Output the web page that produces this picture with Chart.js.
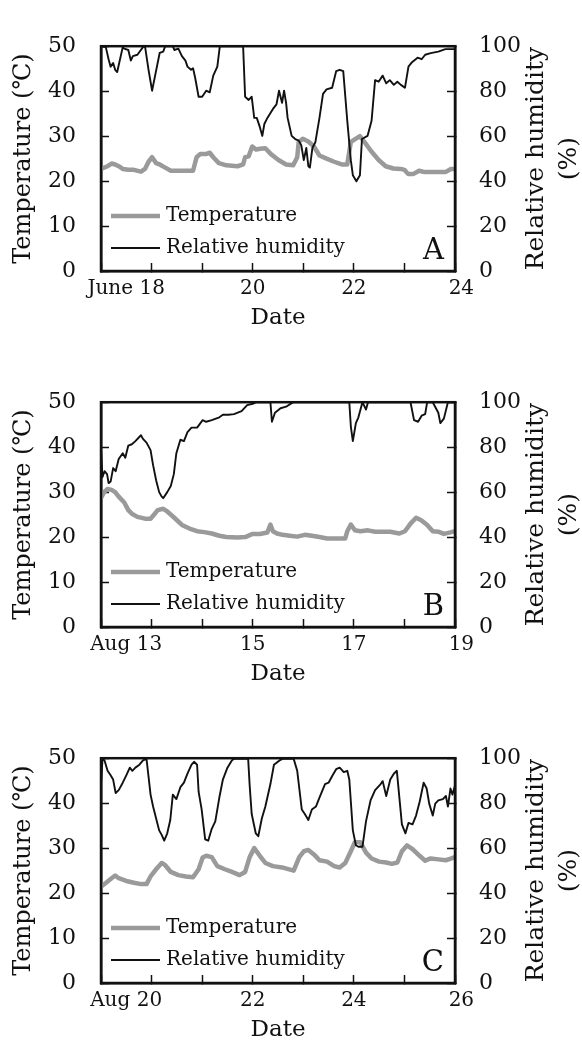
<!DOCTYPE html>
<html>
<head>
<meta charset="utf-8">
<script src="https://cdn.jsdelivr.net/npm/chart.js@4.4.0/dist/chart.umd.min.js"></script>
<style>
body { margin: 0; background: #fff; overflow: hidden; width: 582px; height: 1043px; position: relative; }
canvas { position: absolute; left: 0; }
</style>
</head>
<body>
<canvas id="chartA" width="582" height="340" style="top:0px"></canvas>
<canvas id="chartB" width="582" height="340" style="top:356px"></canvas>
<canvas id="chartC" width="582" height="340" style="top:712px"></canvas>
<script>
// Panel A, June 17-24 (x = day of month)
var dayRhA = [17.00, 17.095, 17.15, 17.19, 17.24, 17.28, 17.32, 17.43, 17.46, 17.54, 17.59, 17.63, 17.72, 17.83, 17.87,
  17.94, 18.01, 18.07, 18.16, 18.23, 18.27, 18.42, 18.45, 18.53, 18.60, 18.67, 18.71, 18.78, 18.82, 18.86, 18.93,
  19.00, 19.08, 19.15, 19.22, 19.30, 19.35, 19.81, 19.85, 19.92, 19.98, 20.03, 20.08, 20.14, 20.19, 20.23, 20.29,
  20.40, 20.47, 20.52, 20.58, 20.62, 20.66, 20.69, 20.77, 20.84, 20.91, 20.96, 21.01, 21.06, 21.10, 21.13, 21.18,
  21.24, 21.32, 21.39, 21.46, 21.57, 21.65, 21.72, 21.79, 21.87, 21.94, 21.98, 22.05, 22.12, 22.16, 22.27, 22.35,
  22.42, 22.49, 22.57, 22.64, 22.71, 22.79, 22.86, 22.93, 23.01, 23.08, 23.15, 23.26, 23.34, 23.41, 23.52, 23.67,
  23.81, 24.00];
var rhA = [100, 99.6, 94.2, 90.9, 92.5, 89.5, 88.5, 99.6, 98.9, 98.3, 93.6, 95.6, 96.2, 99.6, 100,
  89.5, 80.2, 86.9, 97.0, 97.6, 100, 100, 98.3, 98.9, 95.6, 93.6, 90.9, 89.5, 90.2, 86.2, 77.5,
  77.5, 80.2, 79.5, 86.9, 90.9, 100, 100, 77.5, 76.1, 77.5, 68.1, 68.1, 64.1, 60.1, 65.4, 68.1,
  72.1, 74.1, 80.2, 74.8, 80.2, 74.8, 68.1, 60.1, 58.7, 58.0, 56.0, 49.3, 54.7, 46.6, 46.0, 54.7,
  57.4, 68.1, 78.8, 80.8, 81.5, 88.9, 89.5, 88.9, 66.8, 49.3, 42.6, 39.9, 42.6, 58.7, 60.1, 66.8,
  84.9, 84.2, 86.9, 83.5, 84.9, 82.8, 84.2, 82.8, 81.5, 90.9, 92.9, 94.9, 94.2, 96.2, 96.9, 97.6,
  98.7, 98.7];
var dayTempA = [17.00, 17.13, 17.21, 17.28, 17.35, 17.43, 17.54, 17.65, 17.79, 17.87, 17.94, 18.01, 18.09, 18.16,
  18.27, 18.38, 18.53, 18.67, 18.82, 18.89, 18.96, 19.07, 19.15, 19.22, 19.33, 19.48, 19.70, 19.81, 19.85, 19.92,
  19.99, 20.07, 20.14, 20.25, 20.36, 20.51, 20.66, 20.80, 20.88, 20.91, 20.99, 21.10, 21.21, 21.32, 21.46, 21.61,
  21.76, 21.87, 21.94, 22.05, 22.12, 22.23, 22.34, 22.49, 22.63, 22.78, 22.93, 23.00, 23.07, 23.18, 23.29, 23.40,
  23.51, 23.66, 23.81, 23.92, 24.00];
var tempA = [22.7, 23.3, 23.9, 23.7, 23.3, 22.7, 22.5, 22.5, 22.1, 22.7, 24.3, 25.3, 24.0, 23.7,
  23.0, 22.3, 22.3, 22.3, 22.3, 25.3, 26.0, 26.0, 26.3, 25.3, 24.0, 23.5, 23.3, 23.7, 25.3, 25.5,
  27.7, 27.0, 27.2, 27.3, 26.0, 24.7, 23.7, 23.5, 25.3, 28.7, 29.4, 28.8, 27.7, 25.7, 25.0, 24.3,
  23.7, 23.7, 28.7, 29.5, 30.0, 28.4, 26.7, 24.7, 23.3, 22.8, 22.7, 22.5, 21.6, 21.6, 22.3, 22.0,
  22.0, 22.0, 22.0, 22.7, 22.7];
var tickValsA = [18, 20, 22, 24];
var tickTextA = ['June 18', '20', '22', '24'];

// Panel B, Aug 12-19
var dayRhB = [12.00, 12.03, 12.07, 12.12, 12.15, 12.19, 12.24, 12.29, 12.35, 12.43, 12.48, 12.54, 12.61, 12.68,
  12.79, 12.83, 12.90, 12.98, 13.03, 13.09, 13.15, 13.20, 13.23, 13.31, 13.38, 13.44, 13.49, 13.57, 13.64, 13.71,
  13.79, 13.90, 14.01, 14.08, 14.19, 14.34, 14.41, 14.52, 14.63, 14.78, 14.89, 15.00, 15.07, 15.35, 15.38, 15.44,
  15.55, 15.66, 15.77, 15.81, 16.91, 16.94, 16.98, 17.04, 17.09, 17.17, 17.24, 17.28, 18.12, 18.19, 18.27, 18.34,
  18.41, 18.45, 18.56, 18.67, 18.71, 18.78, 18.86, 19.00];
var rhB = [78.7, 66.7, 69.3, 68.0, 64.0, 64.7, 70.7, 69.3, 74.7, 77.3, 75.3, 80.7, 81.3, 82.7,
  85.3, 83.7, 82.0, 78.7, 72.0, 65.3, 60.0, 58.0, 57.3, 60.0, 62.7, 68.0, 77.3, 83.3, 82.7, 86.7,
  88.7, 88.7, 92.0, 91.3, 92.0, 93.3, 94.4, 94.4, 94.7, 96.0, 98.7, 99.3, 100, 100, 91.3, 95.3,
  97.3, 98.0, 99.6, 100, 100, 89.3, 82.7, 90.7, 93.3, 100, 96.7, 100, 100, 92.0, 91.3, 94.0,
  94.7, 100, 100, 95.3, 90.7, 92.7, 100, 100];
var dayTempB = [12.00, 12.06, 12.13, 12.21, 12.28, 12.35, 12.46, 12.54, 12.61, 12.72, 12.87, 12.98, 13.05, 13.12,
  13.23, 13.31, 13.45, 13.60, 13.75, 13.90, 14.04, 14.19, 14.34, 14.48, 14.70, 14.85, 15.00, 15.14, 15.29, 15.35,
  15.40, 15.48, 15.59, 15.73, 15.88, 16.03, 16.17, 16.32, 16.47, 16.61, 16.83, 16.87, 16.94, 17.02, 17.13, 17.28,
  17.42, 17.57, 17.72, 17.90, 18.01, 18.12, 18.23, 18.34, 18.45, 18.56, 18.67, 18.78, 18.89, 19.00];
var tempB = [28.7, 30.0, 30.7, 30.5, 30.0, 29.0, 27.7, 26.0, 25.2, 24.5, 24.1, 24.1, 25.0, 26.0,
  26.3, 25.7, 24.3, 22.7, 21.9, 21.3, 21.1, 20.8, 20.3, 20.0, 19.9, 20.0, 20.7, 20.7, 21.0, 22.8,
  21.3, 20.8, 20.5, 20.3, 20.1, 20.5, 20.3, 20.0, 19.7, 19.7, 19.7, 21.3, 22.8, 21.5, 21.3, 21.5,
  21.2, 21.2, 21.2, 20.8, 21.3, 23.0, 24.3, 23.7, 22.7, 21.3, 21.2, 20.7, 21.0, 21.3];
var tickValsB = [13, 15, 17, 19];
var tickTextB = ['Aug 13', '15', '17', '19'];

// Panel C, Aug 19-26
var dayRhC = [19.00, 19.03, 19.07, 19.13, 19.19, 19.24, 19.29, 19.35, 19.43, 19.50, 19.57, 19.62, 19.68, 19.76,
  19.83, 19.90, 19.94, 19.98, 20.03, 20.09, 20.15, 20.20, 20.25, 20.31, 20.37, 20.42, 20.49, 20.57, 20.64, 20.71,
  20.79, 20.84, 20.90, 20.93, 20.99, 21.06, 21.12, 21.19, 21.26, 21.34, 21.41, 21.50, 21.59, 21.63, 21.91, 21.94,
  21.98, 22.06, 22.11, 22.18, 22.25, 22.35, 22.42, 22.53, 22.59, 22.81, 22.88, 22.97, 23.03, 23.10, 23.17, 23.25,
  23.32, 23.43, 23.50, 23.58, 23.65, 23.72, 23.80, 23.87, 23.91, 23.98, 24.04, 24.09, 24.17, 24.24, 24.33, 24.42,
  24.53, 24.57, 24.64, 24.72, 24.79, 24.85, 24.90, 24.95, 25.02, 25.08, 25.16, 25.23, 25.30, 25.38, 25.44, 25.49,
  25.56, 25.61, 25.67, 25.76, 25.82, 25.86, 25.91, 25.95, 26.00];
var rhC = [88.5, 99.7, 99.0, 94.4, 92.4, 90.5, 84.5, 85.8, 89.1, 92.4, 95.8, 94.4, 95.8, 97.1,
  99.0, 99.7, 91.8, 83.8, 78.5, 73.2, 67.9, 65.9, 63.3, 66.6, 72.5, 83.8, 81.8, 87.1, 89.1, 93.1,
  97.1, 98.4, 97.1, 85.1, 77.2, 63.9, 63.3, 68.6, 71.9, 82.5, 90.5, 95.8, 99.1, 99.7, 99.7, 87.8,
  75.2, 66.6, 65.3, 73.2, 78.5, 88.5, 97.1, 99.0, 99.7, 99.7, 94.4, 77.2, 75.2, 72.5, 77.2, 78.5,
  82.5, 88.5, 89.1, 92.4, 95.1, 95.8, 93.8, 94.4, 90.5, 67.9, 61.3, 60.6, 60.6, 71.9, 81.2, 85.8,
  88.5, 89.8, 83.2, 90.5, 93.1, 94.4, 82.5, 70.6, 66.6, 71.2, 70.6, 74.5, 80.5, 89.1, 86.5, 79.8,
  74.5, 79.8, 81.2, 81.8, 83.2, 78.5, 86.5, 83.8, 87.8];
var dayTempC = [19.00, 19.10, 19.21, 19.28, 19.35, 19.50, 19.65, 19.79, 19.90, 19.98, 20.09, 20.20, 20.27, 20.38,
  20.53, 20.68, 20.82, 20.93, 21.01, 21.08, 21.19, 21.30, 21.45, 21.59, 21.74, 21.85, 21.94, 22.03, 22.14, 22.25,
  22.40, 22.58, 22.81, 22.92, 23.01, 23.10, 23.21, 23.32, 23.47, 23.61, 23.72, 23.83, 23.94, 24.02, 24.13, 24.24,
  24.35, 24.50, 24.64, 24.75, 24.86, 24.95, 25.05, 25.16, 25.30, 25.41, 25.52, 25.67, 25.82, 25.93, 26.00];
var tempC = [21.4, 22.3, 23.3, 23.9, 23.3, 22.7, 22.3, 22.0, 22.0, 23.7, 25.3, 26.7, 26.2, 24.7,
  24.0, 23.7, 23.5, 25.3, 27.9, 28.3, 28.0, 26.0, 25.3, 24.7, 24.0, 24.7, 28.0, 30.0, 28.3, 26.7,
  26.0, 25.7, 25.0, 28.0, 29.3, 29.6, 28.6, 27.3, 27.0, 26.0, 25.7, 26.7, 29.3, 31.3, 31.3, 29.0,
  27.7, 27.0, 26.8, 26.5, 26.8, 29.3, 30.6, 29.8, 28.3, 27.2, 27.7, 27.5, 27.3, 27.7, 28.0];
var tickValsC = [20, 22, 24, 26];
var tickTextC = ['Aug 20', '22', '24', '26'];

var FONT = '"DejaVu Serif", "Liberation Serif", serif';
var INK = '#111111';

// frame, in-plot legend, panel letter and the right axis title (reads bottom to top)
var panelDeco = {
  id: 'panelDeco',
  afterDatasetsDraw: function(chart, args, opts) {
    var ctx = chart.ctx;
    var a = chart.chartArea;
    ctx.save();
    ctx.strokeStyle = INK;
    ctx.lineWidth = 2.5;
    ctx.strokeRect(a.left, a.top, a.right - a.left, a.bottom - a.top);

    ctx.font = '20px ' + FONT;
    ctx.textAlign = 'left';
    ctx.textBaseline = 'middle';
    ctx.fillStyle = INK;
    chart.data.datasets.forEach(function(ds, i) {
      var y = a.bottom - 55 + i * 32;
      ctx.strokeStyle = ds.borderColor;
      ctx.lineWidth = ds.borderWidth;
      ctx.beginPath();
      ctx.moveTo(a.left + 10, y);
      ctx.lineTo(a.left + 59, y);
      ctx.stroke();
      ctx.fillText(ds.label, a.left + 65, y);
    });

    ctx.font = '29px ' + FONT;
    ctx.textAlign = 'right';
    ctx.textBaseline = 'alphabetic';
    ctx.fillText(opts.letter, a.right - 11, a.bottom - 12);

    var cy = (a.top + a.bottom) / 2;
    ctx.font = '25px ' + FONT;
    ctx.textAlign = 'center';
    ctx.textBaseline = 'middle';
    ctx.translate(a.right + 81, cy);
    ctx.rotate(-Math.PI / 2);
    ctx.fillText('Relative humidity', 0, 0);
    ctx.fillText('(%)', 0, 33);
    ctx.restore();
  }
};

function points(days, vals) {
  return days.map(function(d, i) { return { x: d, y: vals[i] }; });
}

function axisLines() {
  return {
    border: { color: INK, width: 2.5 },
    grid: { drawOnChartArea: false, tickLength: -8, color: INK, tickWidth: 1.5 }
  };
}

function makeChart(id, letter, dayT, temp, dayH, rh, xMin, tickVals, tickText) {
  var xAxis = axisLines();
  var yLeft = axisLines();
  var yRight = axisLines();

  new Chart(document.getElementById(id), {
    type: 'line',
    data: {
      datasets: [{
        label: 'Temperature',
        data: points(dayT, temp),
        yAxisID: 'yT',
        borderColor: '#9a9a9a',
        borderWidth: 4.5,
        pointRadius: 0,
        order: 2
      }, {
        label: 'Relative humidity',
        data: points(dayH, rh),
        yAxisID: 'yH',
        borderColor: INK,
        borderWidth: 1.9,
        pointRadius: 0,
        order: 1
      }]
    },
    options: {
      responsive: false,
      animation: false,
      devicePixelRatio: 1,
      layout: { padding: { top: 20, bottom: 0, left: 0, right: 0 } },
      elements: { line: { tension: 0, borderJoinStyle: 'round' } },
      plugins: {
        legend: { display: false },
        tooltip: { enabled: false },
        panelDeco: { letter: letter }
      },
      scales: {
        x: {
          type: 'linear',
          min: xMin,
          max: xMin + 7,
          afterFit: function(s) { s.height = 69; },
          border: xAxis.border,
          grid: xAxis.grid,
          ticks: {
            stepSize: 1,
            autoSkip: false,
            maxRotation: 0,
            padding: 14,
            color: INK,
            font: { family: FONT, size: 20 },
            callback: function(v) {
              var k = tickVals.indexOf(v);
              if (k < 0) return '';
              // month name sits left of the tick, the day number under it;
              // the last label sits a little right of the corner
              if (k === 0) return tickText[k] + '        ';
              if (k === tickVals.length - 1) return '  ' + tickText[k];
              return tickText[k];
            }
          },
          title: {
            display: true,
            text: 'Date',
            color: INK,
            font: { family: FONT, size: 23 },
            padding: { top: 0, bottom: 8 }
          }
        },
        yT: {
          position: 'left',
          min: 0,
          max: 50,
          afterFit: function(s) { s.width = 101; },
          border: yLeft.border,
          grid: yLeft.grid,
          ticks: { stepSize: 10, padding: 33, color: INK, font: { family: FONT, size: 22 } },
          title: {
            display: true,
            text: 'Temperature (℃)',
            color: INK,
            font: { family: FONT, size: 24 },
            padding: { top: 9, bottom: 0 }
          }
        },
        yH: {
          position: 'right',
          min: 0,
          max: 100,
          afterFit: function(s) { s.width = 127; },
          border: yRight.border,
          grid: yRight.grid,
          ticks: { stepSize: 20, padding: 32, color: INK, font: { family: FONT, size: 22 } }
        }
      }
    },
    plugins: [panelDeco]
  });
}

makeChart('chartA', 'A', dayTempA, tempA, dayRhA, rhA, 17, tickValsA, tickTextA);
makeChart('chartB', 'B', dayTempB, tempB, dayRhB, rhB, 12, tickValsB, tickTextB);
makeChart('chartC', 'C', dayTempC, tempC, dayRhC, rhC, 19, tickValsC, tickTextC);
</script>
</body>
</html>
